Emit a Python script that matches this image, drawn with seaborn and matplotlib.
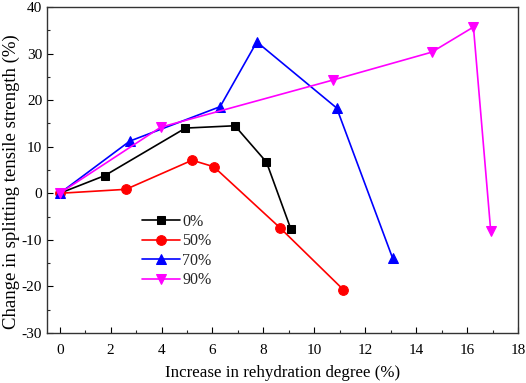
import matplotlib
matplotlib.use("Agg")
import matplotlib.pyplot as plt
import seaborn as sns
import pandas as pd
from matplotlib.ticker import MultipleLocator

sns.set_theme(style="white")
plt.rcParams['font.family'] = ['Liberation Serif', 'DejaVu Serif']
plt.rcParams['mathtext.fontset'] = 'stix'
plt.rcParams['axes.unicode_minus'] = False

labels = ["0%", "50%", "70%", "90%"]
x0 = [0, 1.77, 4.94, 6.88, 8.12, 9.08]
y0 = [0, 3.8, 14.0, 14.5, 6.7, -7.7]
x50 = [0, 2.6, 5.2, 6.05, 8.65, 11.14]
y50 = [0, 0.85, 7.1, 5.7, -7.4, -20.7]
x70 = [0, 2.75, 6.3, 7.74, 10.88, 13.08]
y70 = [0, 11.2, 18.6, 32.5, 18.3, -14.0]
x90 = [0, 3.97, 10.72, 14.61, 16.25, 16.93]
y90 = [0, 14.2, 24.3, 30.3, 35.7, -8.2]

xs = [x0, x50, x70, x90]
ys = [y0, y50, y70, y90]
colors = ["#000000", "#ff0000", "#0000ff", "#ff00ff"]
markers = ["s", "o", "^", "v"]
msizes = [6, 7, 7.5, 7.5]

rows = []
for lab, xx, yy in zip(labels, xs, ys):
    for i, (a, b) in enumerate(zip(xx, yy)):
        rows.append({"group": lab, "x": a, "y": b, "order": i})
df = pd.DataFrame(rows)

fig = plt.figure(figsize=(5.26, 3.83), dpi=100)
ax = fig.add_axes([47/526, 1-333/383, (518-47)/526, (333-7)/383])

for lab, c, m, ms in zip(labels, colors, markers, msizes):
    sub = df[df.group == lab]
    sns.lineplot(data=sub, x="x", y="y", sort=False, ax=ax, color=c,
                 marker=m, markersize=ms, markeredgecolor=c, linewidth=1.2,
                 label=lab, estimator=None)

ax.set_xlim(-0.5, 18)
ax.set_ylim(-30, 40)
ax.xaxis.set_major_locator(MultipleLocator(2))
ax.xaxis.set_minor_locator(MultipleLocator(1))
ax.yaxis.set_major_locator(MultipleLocator(10))
ax.yaxis.set_minor_locator(MultipleLocator(5))
ax.tick_params(axis="both", which="major", direction="in", length=4, width=0.8,
               labelsize=11, colors="#000000", bottom=True, left=True, top=False, right=False)
ax.tick_params(axis="x", which="major", pad=8)
ax.tick_params(axis="both", which="minor", direction="in", length=2.5, width=0.8,
               bottom=True, left=True, top=False, right=False)
for s in ax.spines.values():
    s.set_color("#333333")
    s.set_linewidth(1.0)

ax.set_xlabel("Increase in rehydration degree (%)", fontsize=12.2, color="black", labelpad=6)
ax.set_ylabel("Change in splitting tensile strength (%)", fontsize=13.5, color="black")
ax.yaxis.set_label_coords((20.5 - 47) / 471, (333 - 182) / 326)

leg = ax.legend(loc="upper left", bbox_to_anchor=(0.177, 0.40), frameon=False,
                fontsize=11.5, handlelength=2.4, handletextpad=0.15, labelspacing=0.22,
                borderpad=0.2)

fig.savefig("out.png", dpi=100)
